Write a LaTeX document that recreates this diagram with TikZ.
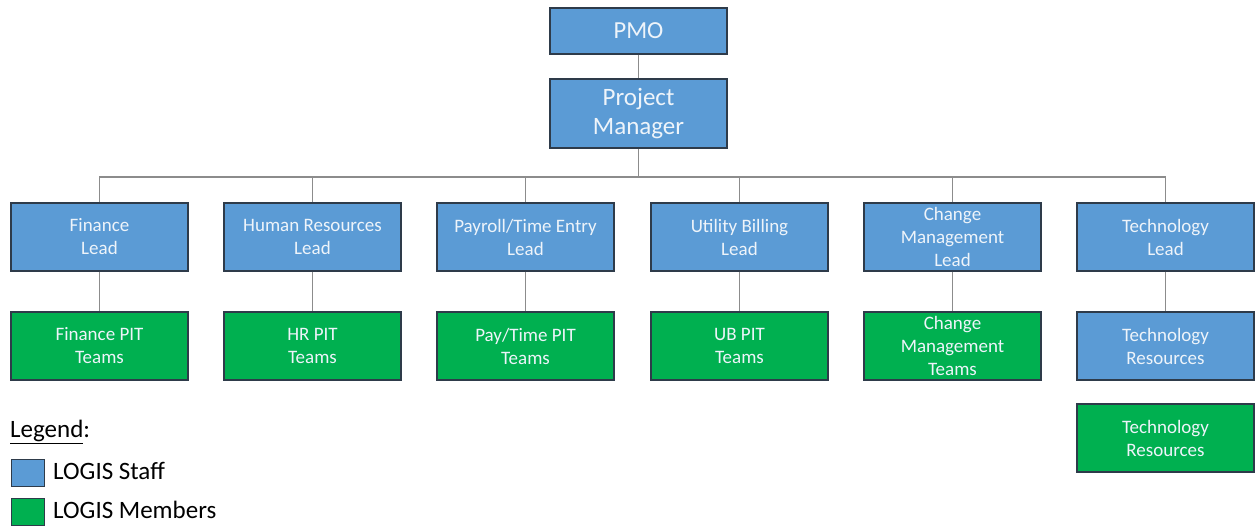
\documentclass[tikz,border=0pt]{standalone}
\usepackage{fontspec}
\setmainfont{Carlito}
\definecolor{staffblue}{HTML}{5B9BD5}
\definecolor{memgreen}{HTML}{00B050}
\definecolor{boxedge}{HTML}{2E3B4A}
\definecolor{linegray}{HTML}{8C8C8C}
\definecolor{txtw}{HTML}{EEF4FA}
\begin{document}
\begin{tikzpicture}[x=1pt,y=-1pt,
  box/.style={draw=boxedge,line width=1.3pt,minimum width=177pt,minimum height=68pt,inner sep=0pt,align=center,text=txtw},
  staff/.style={box,fill=staffblue},
  member/.style={box,fill=memgreen},
  small/.style={font=\fontsize{19}{23}\selectfont},
  big/.style={font=\fontsize{25}{29}\selectfont},
  legtext/.style={inner sep=0pt,font=\fontsize{25}{28}\selectfont},
  conn/.style={draw=linegray,line width=1.3pt},
  legbox/.style={draw=boxedge,line width=1pt,minimum width=33pt,minimum height=27pt,inner sep=0pt}]
\useasboundingbox (0,0) rectangle (1255,525);
\node[staff,font=\fontsize{24.5}{29}\selectfont,minimum height=46pt] (pmo) at (638.5,31) {PMO};
\node[staff,big,minimum height=69pt] (pm) at (638.5,113.5) {Project\\Manager};
\coordinate (bus) at (638.5,177);
\node[staff,small] (l1) at (99.5,237) {Finance\\Lead};
\node[staff,small] (l2) at (312.5,237) {Human Resources\\Lead};
\node[staff,small] (l3) at (525.5,237) {Payroll/Time Entry\\Lead};
\node[staff,small] (l4) at (739.5,237) {Utility Billing\\Lead};
\node[staff,small] (l5) at (952.5,237) {Change\\Management\\Lead};
\node[staff,small] (l6) at (1165.5,237) {Technology\\Lead};
\node[member,small] (t1) at (99.5,346) {Finance PIT\\Teams};
\node[member,small] (t2) at (312.5,346) {HR PIT\\Teams};
\node[member,small] (t3) at (525.5,346) {Pay/Time PIT\\Teams};
\node[member,small] (t4) at (739.5,346) {UB PIT\\Teams};
\node[member,small] (t5) at (952.5,346) {Change\\Management\\Teams};
\node[staff,small] (t6) at (1165.5,346) {Technology\\Resources};
\node[member,small] (t7) at (1165.5,438) {Technology\\Resources};
\draw[conn] (pmo) -- (pm);
\draw[conn] (pm) -- (bus);
\foreach \i in {1,...,6} {
  \draw[conn] (bus) -| (l\i.north);
  \draw[conn] (l\i) -- (t\i);
}
\node[legtext,anchor=base west] (leg) at (10,437) {\underline{Legend}:};
\node[legbox,fill=staffblue] (lb) at (27.5,472.5) {};
\node[legbox,fill=memgreen] (lg) at (27.5,511.5) {};
\node[legtext,anchor=west] (lbt) at (53,471) {LOGIS Staff};
\node[legtext,anchor=west] (lgt) at (53,510) {LOGIS Members};
\end{tikzpicture}
\end{document}
